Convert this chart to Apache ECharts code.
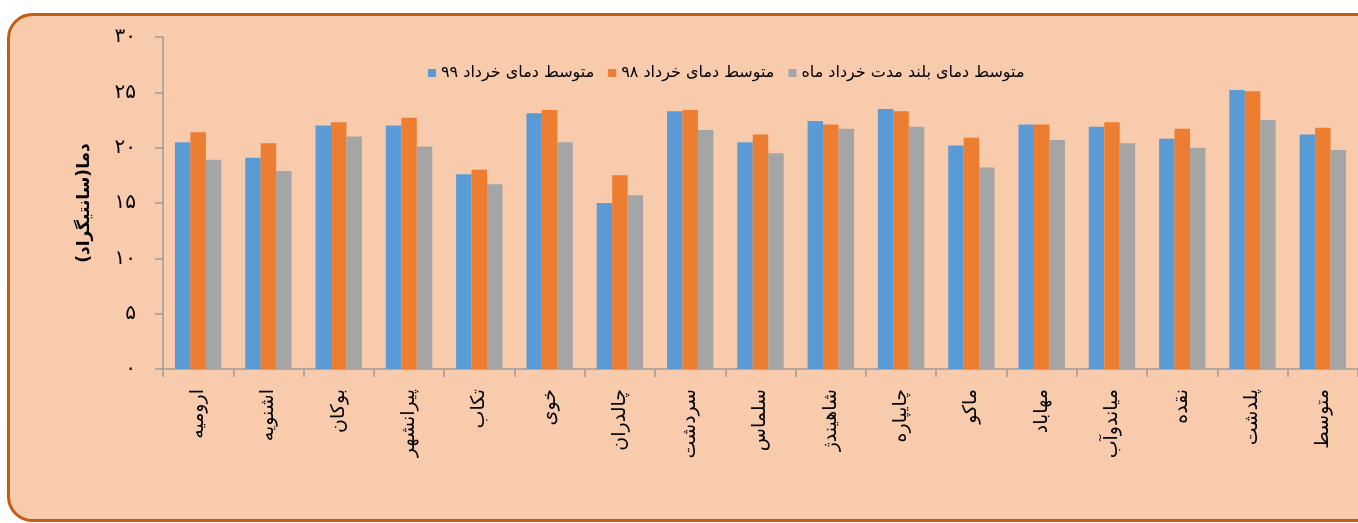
<!DOCTYPE html>
<html>
<head>
<meta charset="utf-8">
<script src="https://cdn.jsdelivr.net/npm/echarts@6/dist/echarts.min.js"></script>
<style>
  html, body { margin: 0; padding: 0; background: #fff; overflow: hidden; }
  #chart { width: 1358px; height: 523px; }
</style>
</head>
<body>
<div id="chart"></div>
<script>
const cities = ['ارومیه', 'اشنویه', 'بوکان', 'پیرانشهر', 'تکاب', 'خوی', 'چالدران', 'سردشت', 'سلماس',
  'شاهیندژ', 'چایپاره', 'ماکو', 'مهاباد', 'میاندوآب', 'نقده', 'پلدشت', 'متوسط']
const temp99 = [20.5, 19.1, 22.0, 22.0, 17.6, 23.1, 15.0, 23.3, 20.5, 22.4, 23.5, 20.2, 22.1, 21.9, 20.8, 25.2, 21.2]
const temp98 = [21.4, 20.4, 22.3, 22.7, 18.0, 23.4, 17.5, 23.4, 21.2, 22.1, 23.3, 20.9, 22.1, 22.3, 21.7, 25.1, 21.8]
const tempLong = [18.9, 17.9, 21.0, 20.1, 16.7, 20.5, 15.7, 21.6, 19.5, 21.7, 21.9, 18.2, 20.7, 20.4, 20.0, 22.5, 19.8]
const seriesNames = ['متوسط دمای خرداد ۹۹', 'متوسط دمای خرداد ۹۸', 'متوسط دمای بلند مدت خرداد ماه']
const colors = ['#5B9BD5', '#ED7D31', '#A5A5A5']

const faDigits = '۰۱۲۳۴۵۶۷۸۹'
function toFa(v) {
  return String(v).replace(/[0-9]/g, d => faDigits[d])
}

const chart = echarts.init(document.getElementById('chart'))
const font = 'DejaVu Sans'

chart.setOption({
  backgroundColor: '#fff',
  animation: false,
  color: colors,
  textStyle: {fontFamily: font, color: '#000'},
  graphic: [
    {
      type: 'rect',
      z: -10,
      shape: {x: 8.5, y: 14.5, width: 1400, height: 506, r: 24},
      style: {fill: '#F8CBAD', stroke: '#C55A11', lineWidth: 3}
    }
  ],
  legend: {
    top: 60,
    left: 423,
    itemWidth: 8,
    itemHeight: 8,
    itemGap: 14,
    icon: 'rect',
    textStyle: {fontFamily: font, fontSize: 16, color: '#000'},
    data: seriesNames
  },
  grid: {left: 163, top: 37, bottom: 154, right: -9},
  xAxis: {
    type: 'category',
    data: cities,
    axisLine: {lineStyle: {color: '#9C9C9C', width: 1.5}},
    axisTick: {show: true, length: 8, lineStyle: {color: '#9C9C9C', width: 1.5}},
    axisLabel: {
      rotate: 90,
      margin: 20,
      fontFamily: font,
      fontSize: 19,
      color: '#000',
      interval: 0
    }
  },
  yAxis: {
    type: 'value',
    min: 0,
    max: 30,
    interval: 5,
    name: 'دما(سانتیگراد)',
    nameLocation: 'middle',
    nameGap: 70,
    nameTextStyle: {fontFamily: font, fontSize: 17, fontWeight: 'bold', color: '#000'},
    axisLine: {show: true, lineStyle: {color: '#9C9C9C', width: 1.5}},
    axisTick: {show: true, length: 8, lineStyle: {color: '#9C9C9C', width: 1.5}},
    splitLine: {show: false},
    axisLabel: {
      margin: 27,
      fontFamily: font,
      fontSize: 20,
      color: '#000',
      formatter: v => toFa(v)
    }
  },
  series: [
    {name: seriesNames[0], type: 'bar', data: temp99, barGap: '0%', barCategoryGap: '34%'},
    {name: seriesNames[1], type: 'bar', data: temp98, barGap: '0%', barCategoryGap: '34%'},
    {name: seriesNames[2], type: 'bar', data: tempLong, barGap: '0%', barCategoryGap: '34%'}
  ]
})
</script>
</body>
</html>
